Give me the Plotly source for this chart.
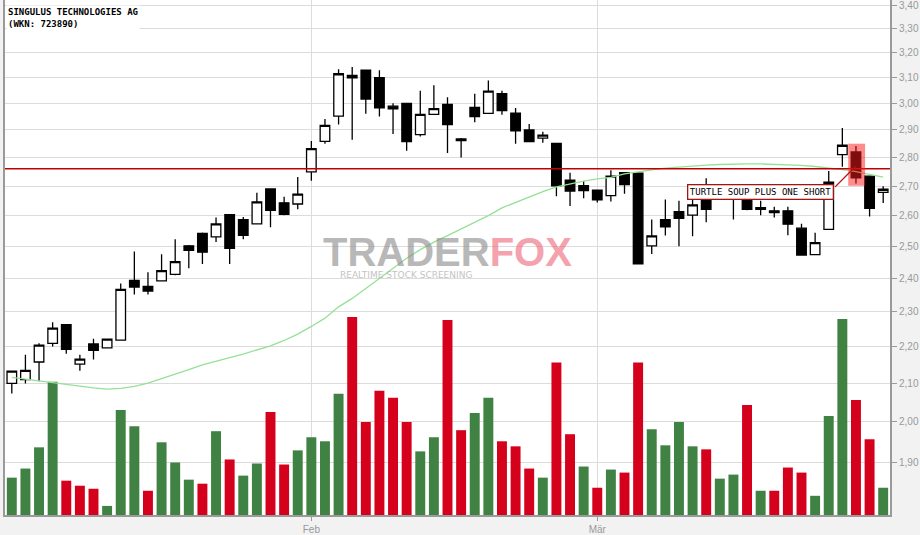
import math
import plotly.graph_objects as go

# ---------------- data ----------------
title_name = "SINGULUS TECHNOLOGIES AG"
title_wkn = "(WKN: 723890)"
month_tick_index = [22, 43]
month_tick_text = ["Feb", "Mär"]
price_ticks = [1.9, 2.0, 2.1, 2.2, 2.3, 2.4, 2.5, 2.6, 2.7, 2.8, 2.9, 3.0, 3.1, 3.2, 3.3, 3.4]

opens = [2.100, 2.110, 2.158, 2.210, 2.263, 2.152, 2.208, 2.197, 2.219, 2.394,
         2.376, 2.393, 2.413, 2.502, 2.542, 2.531, 2.603, 2.587, 2.573, 2.690,
         2.643, 2.639, 2.749, 2.858, 2.951, 3.099, 3.129, 3.100, 2.989, 3.000,
         2.883, 2.958, 2.996, 2.867, 2.984, 2.962, 3.037, 2.963, 2.900, 2.870,
         2.851, 2.720, 2.701, 2.686, 2.667, 2.746, 2.745, 2.502, 2.587, 2.613,
         2.602, 2.653, 2.660, 2.665, 2.655, 2.627, 2.616, 2.616, 2.559, 2.474,
         2.555, 2.810, 2.820, 2.734, 2.678]
highs = [2.135, 2.178, 2.210, 2.270, 2.265, 2.178, 2.223, 2.222, 2.385, 2.484,
         2.419, 2.475, 2.523, 2.505, 2.545, 2.594, 2.605, 2.596, 2.677, 2.692,
         2.663, 2.731, 2.859, 2.941, 3.133, 3.142, 3.130, 3.129, 3.000, 3.001,
         3.048, 3.070, 3.023, 2.870, 3.037, 3.088, 3.048, 2.982, 2.922, 2.893,
         2.852, 2.746, 2.717, 2.688, 2.755, 2.748, 2.748, 2.587, 2.654, 2.650,
         2.680, 2.727, 2.695, 2.700, 2.660, 2.650, 2.630, 2.630, 2.573, 2.544,
         2.752, 2.907, 2.841, 2.736, 2.699]
lows = [2.073, 2.100, 2.106, 2.201, 2.181, 2.134, 2.165, 2.197, 2.219, 2.352,
        2.352, 2.393, 2.410, 2.432, 2.445, 2.514, 2.445, 2.523, 2.572, 2.562,
        2.601, 2.621, 2.718, 2.849, 2.920, 2.864, 2.960, 2.950, 2.885, 2.824,
        2.876, 2.958, 2.816, 2.800, 2.928, 2.960, 2.957, 2.849, 2.855, 2.853,
        2.665, 2.632, 2.658, 2.644, 2.647, 2.674, 2.443, 2.476, 2.535, 2.501,
        2.533, 2.578, 2.655, 2.587, 2.618, 2.601, 2.594, 2.536, 2.473, 2.474,
        2.555, 2.767, 2.709, 2.597, 2.642]
closes = [2.133, 2.135, 2.205, 2.253, 2.193, 2.166, 2.190, 2.222, 2.367, 2.374,
          2.362, 2.424, 2.452, 2.488, 2.482, 2.573, 2.494, 2.536, 2.646, 2.618,
          2.604, 2.672, 2.832, 2.917, 3.115, 3.108, 3.016, 2.983, 2.979, 2.857,
          2.958, 2.980, 2.920, 2.861, 2.950, 3.047, 2.972, 2.897, 2.857, 2.881,
          2.701, 2.683, 2.684, 2.653, 2.734, 2.705, 2.445, 2.534, 2.563, 2.591,
          2.636, 2.621, 2.680, 2.690, 2.621, 2.621, 2.610, 2.572, 2.473, 2.512,
          2.713, 2.844, 2.728, 2.624, 2.689]
moving_avg = [2.116, 2.111, 2.106, 2.101, 2.096, 2.092, 2.088, 2.085, 2.087, 2.092,
              2.101, 2.113, 2.126, 2.137, 2.150, 2.159, 2.170, 2.180, 2.191, 2.203,
              2.218, 2.236, 2.258, 2.282, 2.315, 2.340, 2.370, 2.400, 2.432, 2.463,
              2.490, 2.514, 2.535, 2.557, 2.579, 2.600, 2.626, 2.645, 2.662, 2.681,
              2.697, 2.708, 2.717, 2.725, 2.730, 2.742, 2.750, 2.756, 2.762, 2.766,
              2.770, 2.773, 2.775, 2.777, 2.777, 2.777, 2.776, 2.775, 2.772, 2.768,
              2.763, 2.757, 2.750, 2.741, 2.731]
volume_k = [37, 46, 67, 132, 34, 29, 26, 9, 104, 88,
            24, 72, 52, 35, 31, 83, 55, 39, 51, 102,
            50, 64, 77, 73, 120, 196, 92, 123, 116, 92,
            63, 77, 193, 84, 101, 116, 73, 68, 46, 37,
            151, 80, 48, 27, 45, 42, 151, 85, 69, 92,
            68, 65, 36, 40, 109, 24, 24, 47, 42, 19,
            98, 194, 114, 75, 27]
volume_up = [1, 1, 1, 1, 0, 0, 0, 1, 1, 1,
             0, 1, 1, 1, 0, 1, 0, 1, 1, 0,
             0, 1, 1, 1, 1, 0, 0, 0, 0, 0,
             1, 1, 0, 0, 1, 1, 0, 0, 0, 1,
             0, 0, 1, 0, 1, 0, 0, 1, 1, 1,
             1, 0, 1, 1, 0, 1, 0, 0, 0, 1,
             1, 1, 0, 0, 1]
signal_level = 2.76
signal_index = 62
signal_text = "TURTLE SOUP PLUS ONE SHORT"

# ---------------- styling ----------------
GREEN = "#3f8243"
RED = "#d5001c"
GRID = "#dcdcdc"
AXIS = "#9a9a9a"
TICKFONT = dict(family="Liberation Sans", size=10, color="#999999")

days = list(range(len(opens)))

fig = go.Figure()
fig.add_trace(go.Bar(
    x=days, y=volume_k, yaxis="y",
    marker=dict(color=[GREEN if u else RED for u in volume_up], line=dict(width=0)),
    hoverinfo="skip",
))
fig.add_trace(go.Candlestick(
    x=days, open=opens, high=highs, low=lows, close=closes, yaxis="y2",
    increasing=dict(line=dict(color="black", width=1.3), fillcolor="white"),
    decreasing=dict(line=dict(color="black", width=1.3), fillcolor="black"),
    whiskerwidth=0,
))
fig.add_trace(go.Scatter(
    x=days, y=moving_avg, yaxis="y2", mode="lines",
    line=dict(color="#95e195", width=1.3), hoverinfo="skip",
))

# signal level line
fig.add_shape(type="line", xref="paper", x0=0, x1=1, yref="y2",
              y0=signal_level, y1=signal_level,
              line=dict(color="#c00000", width=1.5), layer="above")
# highlight around the signal candle
fig.add_shape(type="rect", xref="x", yref="y2",
              x0=signal_index - 0.57, x1=signal_index + 0.67,
              y0=lows[signal_index] * 0.997, y1=highs[signal_index] * 1.003,
              fillcolor="rgba(255,25,25,0.5)", line=dict(width=0), layer="above")
# connector from label to candle
fig.add_shape(type="line", xref="x", yref="y2",
              x0=signal_index - 1.53, y0=2.697, x1=signal_index, y1=2.77,
              line=dict(color="#b01010", width=1.3), layer="above")

annotations = [
    dict(xref="x", yref="y2", x=signal_index - 7.04, y=math.log10(2.678),
         text=signal_text, showarrow=False,
         font=dict(family="DejaVu Sans Mono", size=9, color="black"),
         bgcolor="white", bordercolor="#a31515", borderwidth=1.3, borderpad=1.5),
    dict(xref="paper", yref="paper", x=0, y=1, xanchor="left", yanchor="top",
         xshift=1, yshift=-5, align="left", showarrow=False,
         text="<b>" + title_name + "</b><br><b>" + title_wkn + "</b>",
         font=dict(family="DejaVu Sans Mono", size=9, color="black"),
         bgcolor="white"),
    dict(xref="paper", yref="paper", x=0.4995, y=0.511, showarrow=False,
         text="<b>TRADER<span style='color:#ee6677'>FOX</span></b>",
         font=dict(family="Liberation Sans", size=40, color="#8a8a8a"),
         opacity=0.6),
    dict(xref="paper", yref="paper", x=0.453, y=0.466, showarrow=False,
         text="REALTIME STOCK SCREENING",
         font=dict(family="DejaVu Sans", size=9, color="#b5b5b5"),
         opacity=0.8),
]

fig.update_layout(
    width=920, height=535,
    margin=dict(l=5, r=30, t=0, b=20),
    paper_bgcolor="#f2f2f2", plot_bgcolor="white",
    showlegend=False, bargap=0.27, separators=",.",
    boxgap=0.12, boxgroupgap=0.2,
    annotations=annotations,
    xaxis=dict(range=[-0.5, 64.5], tickmode="array", tickvals=month_tick_index,
               ticktext=month_tick_text, showgrid=True, gridcolor=GRID, gridwidth=1,
               ticks="outside", ticklen=4, tickcolor=AXIS, showline=True,
               linecolor=AXIS, linewidth=2, zeroline=False,
               rangeslider=dict(visible=False), tickfont=TICKFONT),
    yaxis=dict(range=[0, 510], showgrid=False, showticklabels=False, zeroline=False,
               showline=True, linecolor=AXIS, linewidth=2, ticks=""),
    yaxis2=dict(type="log", overlaying="y", side="right",
                range=[math.log10(1.776), math.log10(3.4217)],
                tickmode="array", tickvals=price_ticks, tickformat=".2f",
                showgrid=True, gridcolor=GRID, gridwidth=1, ticks="outside",
                ticklen=5, tickcolor=AXIS, showline=True, linecolor=AXIS,
                linewidth=2, zeroline=False, tickfont=TICKFONT,
                ticklabeloverflow="allow"),
)

fig.write_html("out.html", config={"displayModeBar": False},
               post_script="document.body.style.margin='0';document.body.style.overflow='hidden';")
